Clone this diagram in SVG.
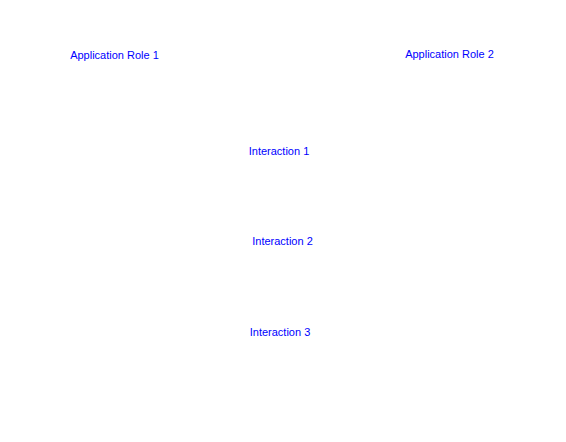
<svg xmlns="http://www.w3.org/2000/svg" width="566" height="442" viewBox="0 0 566 442">
<style>
.lbl{font-family:"Liberation Sans",Arial,sans-serif;font-size:11px;fill:#0000FF;text-anchor:middle}
</style>
<rect width="566" height="442" fill="#FFFFFF"/>
<g id="role1"><text class="lbl" x="114.5" y="58.5">Application Role 1</text></g>
<g id="role2"><text class="lbl" x="449.5" y="57.5">Application Role 2</text></g>
<g id="interaction1"><text class="lbl" x="279" y="154.5">Interaction 1</text></g>
<g id="interaction2"><text class="lbl" x="282.5" y="245">Interaction 2</text></g>
<g id="interaction3"><text class="lbl" x="280" y="335.5">Interaction 3</text></g>
<g id="connectors"></g>
</svg>
